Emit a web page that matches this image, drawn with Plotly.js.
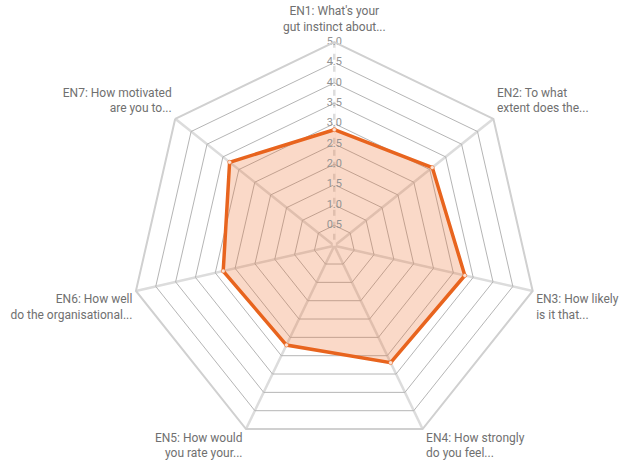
<!DOCTYPE html>
<html>
<head>
<meta charset="utf-8">
<script src="https://cdn.plot.ly/plotly-3.0.1.min.js"></script>
<style>html,body{margin:0;padding:0;background:#fff;}#chart{width:620px;height:463px;}</style>
</head>
<body>
<div id="chart"></div>
<script>
const categories = ["EN1", "EN2", "EN3", "EN4", "EN5", "EN6", "EN7"];
const categoryLabels = [
  "EN1: What's your<br>gut instinct about...",
  "EN2: To what<br>extent does the...",
  "EN3: How likely<br>is it that...",
  "EN4: How strongly<br>do you feel...",
  "EN5: How would<br>you rate your...",
  "EN6: How well<br>do the organisational...",
  "EN7: How motivated<br>are you to..."
];
const scores = [2.85, 3.08, 3.29, 3.19, 2.71, 2.80, 3.29];
const radialTicks = [0.5, 1.0, 1.5, 2.0, 2.5, 3.0, 3.5, 4.0, 4.5, 5.0];
const radialTickLabels = radialTicks.map(v => v.toFixed(1));
const axisMax = 5;

const closedTheta = categories.concat([categories[0]]);
const closedR = scores.concat([scores[0]]);
const FONT = 'Roboto, Arial, sans-serif';

const traces = [
  {
    type: 'scatterpolar',
    r: [0, axisMax],
    theta: [categories[0], categories[0]],
    mode: 'lines',
    line: {color: '#ffffff', width: 3, dash: '6px,6px'},
    hoverinfo: 'skip',
    showlegend: false
  },
  {
    type: 'scatterpolar',
    r: closedR,
    theta: closedTheta,
    mode: 'lines+markers',
    fill: 'toself',
    fillcolor: 'rgba(236,104,36,0.25)',
    line: {color: '#E8641E', width: 3.5},
    marker: {size: 4, color: '#fbe3d6', line: {color: '#E8641E', width: 0.5}},
    showlegend: false
  },
  {
    type: 'scatterpolar',
    r: radialTicks,
    theta: radialTicks.map(() => categories[0]),
    mode: 'text',
    text: radialTickLabels,
    textposition: 'middle center',
    textfont: {family: FONT, size: 11, color: '#939393'},
    hoverinfo: 'skip',
    showlegend: false
  },
  {
    type: 'scatterpolar',
    r: categories.map(() => axisMax),
    theta: categories,
    mode: 'markers+text',
    text: categoryLabels,
    textposition: ['top center', 'top right', 'bottom right', 'bottom right', 'bottom left', 'bottom left', 'top left'],
    marker: {size: [12, 4, 4, 4, 4, 4, 4], opacity: 0},
    textfont: {family: FONT, size: 12, color: '#707070'},
    hoverinfo: 'skip',
    showlegend: false,
    cliponaxis: false
  }
];

const layout = {
  width: 620,
  height: 463,
  margin: {l: 0, r: 0, t: 0, b: 0},
  paper_bgcolor: '#ffffff',
  showlegend: false,
  font: {family: FONT, size: 12, color: '#707070'},
  polar: {
    domain: {x: [0.2110, 0.8674], y: [0.0298, 0.9089]},
    bgcolor: 'rgba(0,0,0,0)',
    gridshape: 'linear',
    radialaxis: {
      range: [0, axisMax],
      tickvals: radialTicks,
      showticklabels: false,
      ticks: '',
      showline: false,
      gridcolor: '#b5b5b5',
      gridwidth: 1,
      angle: 90
    },
    angularaxis: {
      direction: 'clockwise',
      rotation: 90,
      type: 'category',
      categoryorder: 'array',
      categoryarray: categories,
      gridcolor: '#dcdcdc',
      gridwidth: 2.5,
      showline: true,
      linecolor: '#d0d0d0',
      linewidth: 2,
      ticks: '',
      showticklabels: false
    }
  }
};

Plotly.newPlot('chart', traces, layout, {displayModeBar: false, staticPlot: true});
</script>
</body>
</html>
